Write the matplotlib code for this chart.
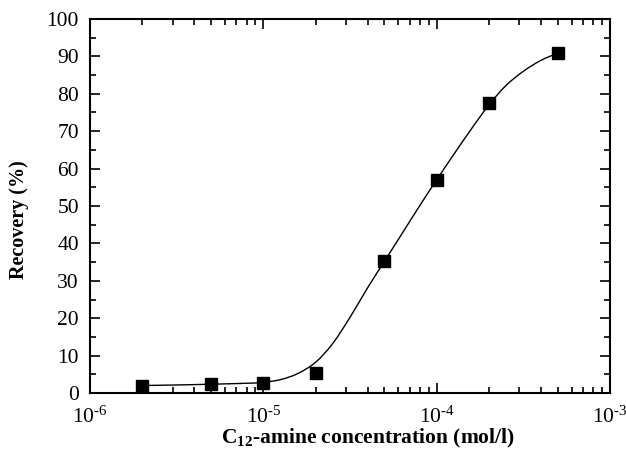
import matplotlib
matplotlib.use("Agg")
import math
import numpy as np
import matplotlib.pyplot as plt
from matplotlib.path import Path
from matplotlib.patches import PathPatch
from matplotlib.transforms import IdentityTransform
from matplotlib.ticker import LogLocator, MultipleLocator, FuncFormatter, NullFormatter

plt.rcParams['font.family'] = ['Liberation Serif', 'DejaVu Serif']
plt.rcParams['mathtext.fontset'] = 'custom'
plt.rcParams['mathtext.rm'] = 'Liberation Serif'
plt.rcParams['mathtext.it'] = 'Liberation Serif:italic'
plt.rcParams['mathtext.bf'] = 'Liberation Serif:bold'

# Measured data
conc = [2e-6, 5e-6, 1e-5, 2e-5, 5e-5, 1e-4, 2e-4, 5e-4]
recovery = [1.95, 2.4, 2.7, 5.3, 35.3, 57.0, 77.6, 91.0]

# Fitted curve
curve_x = [2e-6, 3.16e-6, 5e-6, 7.94e-6, 1e-5, 1.26e-5, 1.58e-5, 2e-5, 2.51e-5,
           3.16e-5, 3.98e-5, 5.01e-5, 6.31e-5, 7.94e-5, 1e-4, 1.26e-4, 1.58e-4,
           2e-4, 2.51e-4, 3.16e-4, 3.98e-4, 5e-4]
curve_y = [2.0, 2.15, 2.35, 2.6, 2.85, 3.6, 5.2, 8.2, 13.2,
           20.2, 28.0, 35.3, 42.6, 49.9, 57.0, 63.9, 70.5,
           77.0, 82.2, 86.0, 88.9, 90.9]

fig = plt.figure(figsize=(6.26, 4.61), dpi=100)
ax = fig.add_axes([0.1438, 0.1475, 0.8306, 0.8113])

ax.set_xscale('log')
ax.set_xlim(1e-6, 1e-3)
ax.set_ylim(0, 100)

# smooth curve through the read points (Catmull-Rom in display space)
P = ax.transData.transform(np.column_stack([curve_x, curve_y]))
Pe = np.vstack([P[0], P, P[-1]])
verts = [P[0]]
codes = [Path.MOVETO]
for i in range(1, len(Pe) - 2):
    p0, p1, p2, p3 = Pe[i - 1], Pe[i], Pe[i + 1], Pe[i + 2]
    verts += [p1 + (p2 - p0) / 6.0, p2 - (p3 - p1) / 6.0, p2]
    codes += [Path.CURVE4] * 3
curve = PathPatch(Path(verts, codes), transform=IdentityTransform(),
                  fill=False, edgecolor='black', lw=1.0, zorder=2)
ax.add_artist(curve)

ax.plot(conc, recovery, 's', color='black', markersize=8.5, zorder=3)


def dec_fmt(v, pos):
    e = int(round(math.log10(v)))
    return r'10$^{\text{%d}}$' % e


ax.xaxis.set_major_locator(LogLocator(base=10, numticks=10))
ax.xaxis.set_minor_locator(LogLocator(base=10, subs=range(2, 10), numticks=20))
ax.xaxis.set_major_formatter(FuncFormatter(dec_fmt))
ax.xaxis.set_minor_formatter(NullFormatter())
ax.yaxis.set_major_locator(MultipleLocator(10))
ax.yaxis.set_minor_locator(MultipleLocator(5))

ax.tick_params(which='both', direction='in', top=True, right=True, width=1.2)
ax.tick_params(which='major', length=7, labelsize=15.5)
ax.tick_params(which='minor', length=4)
ax.tick_params(axis='x', which='major', pad=10)
ax.tick_params(axis='y', which='major', pad=8)
for s in ax.spines.values():
    s.set_linewidth(1.5)

ax.set_xlabel(r'C$_{\mathbf{12}}$-amine concentration (mol/l)', fontsize=15.5,
              fontweight='bold')
ax.xaxis.set_label_coords(0.535, -0.091)
ax.set_ylabel('Recovery (%)', fontsize=14.5, fontweight='bold')
ax.yaxis.set_label_coords(-0.117, 0.463)

fig.savefig('out.png', dpi=100)
